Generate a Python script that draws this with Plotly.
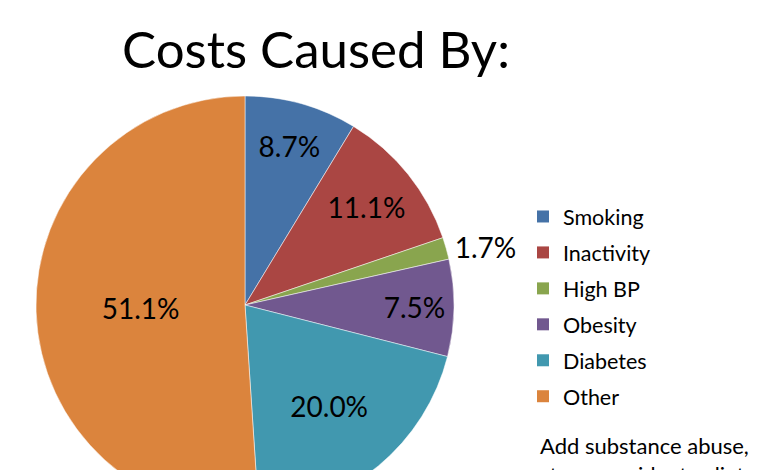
import plotly.graph_objects as go

# cost share by cause, in percent
causes = ["Smoking", "Inactivity", "High BP", "Obesity", "Diabetes", "Other"]
shares = [8.7, 11.1, 1.7, 7.5, 20.0, 51.1]
colors = ["#4572A7", "#AA4643", "#89A54E", "#71588F", "#4198AF", "#DB843D"]
note = "Add substance abuse,<br>stress, accidents, diet,"

# page body adds an 8px margin, so positions below are page px minus 8
W, H = 772, 520
OFF = 8


def px(x):
    return (x - OFF) / W


def py(y):
    return 1 - (y - OFF) / H


fig = go.Figure()
fig.add_trace(go.Pie(
    labels=causes,
    values=shares,
    sort=False,
    direction="clockwise",
    rotation=0,
    marker=dict(colors=colors, line=dict(color="white", width=0.5)),
    texttemplate="%{value:.1f}%",
    textposition=["inside", "inside", "outside", "inside", "inside", "inside"],
    insidetextorientation="horizontal",
    textfont=dict(family="Lato", size=28, color="black"),
    domain=dict(x=[px(36), px(454)], y=[py(514), py(96)]),
    showlegend=False,
    hoverinfo="label+percent",
))

# legend entries, one group each so the gap between them can be set
for name, col in zip(causes, colors):
    fig.add_trace(go.Scatter(
        x=[None], y=[None], mode="markers", name=name, legendgroup=name,
        marker=dict(symbol="square", size=12, color=col),
    ))

fig.update_layout(
    width=W, height=H,
    margin=dict(l=0, r=0, t=0, b=0),
    paper_bgcolor="white", plot_bgcolor="white",
    font=dict(family="Lato", color="black"),
    xaxis=dict(visible=False), yaxis=dict(visible=False),
    title=dict(text="Costs Caused By:", x=px(316), xanchor="center",
               y=py(50), yanchor="middle",
               font=dict(size=51, family="Lato")),
    legend=dict(x=px(523), y=py(196), xanchor="left", yanchor="top",
                font=dict(size=21.5), itemwidth=30, tracegroupgap=5,
                bgcolor="rgba(0,0,0,0)"),
    annotations=[dict(text=note, x=px(538), y=py(430), xref="paper", yref="paper",
                      xanchor="left", yanchor="top", align="left", showarrow=False,
                      font=dict(size=22, family="Lato"))],
)

fig.write_html("out.html")
